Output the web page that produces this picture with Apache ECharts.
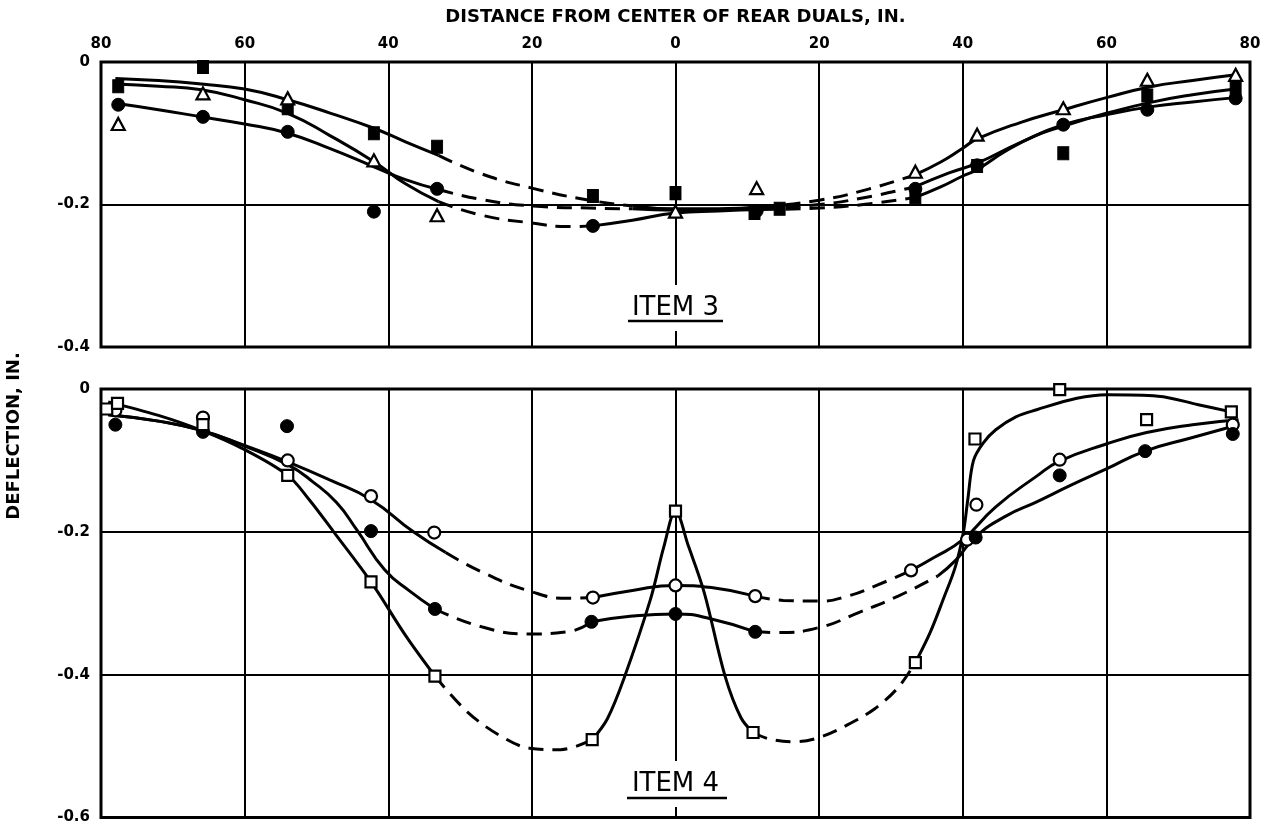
<!DOCTYPE html>
<html>
<head>
<meta charset="utf-8">
<script src="https://cdn.jsdelivr.net/npm/echarts@6.0.0/dist/echarts.min.js"></script>
<style>html,body{margin:0;padding:0;background:#fff}#c{width:1269px;height:825px}</style>
</head>
<body>
<div id="c"></div>
<script>
// ---------- tick labels ----------
const xTickLabels = ['80','60','40','20','0','20','40','60','80'];
const yTickLabelsTop = ['-0.4','-0.2','0'];
const yTickLabelsBottom = ['-0.6','-0.4','-0.2','0'];
const xAxisTitle = 'DISTANCE FROM CENTER OF REAR DUALS, IN.';
const yAxisTitle = 'DEFLECTION, IN.';
const panelLabels = ['ITEM 3', 'ITEM 4'];

// ---------- ITEM 3 measured points ----------
const item3FilledCircle = [[-77.6,-0.060],[-65.8,-0.077],[-54,-0.098],[-42,-0.210],[-33.2,-0.178],[-11.5,-0.230],[11.3,-0.209],[33.4,-0.178],[42,-0.145],[54,-0.088],[65.7,-0.067],[78,-0.051]];
const item3FilledSquare = [[-77.6,-0.034],[-65.8,-0.007],[-54,-0.065],[-42,-0.100],[-33.2,-0.119],[-11.5,-0.188],[0,-0.184],[11,-0.212],[14.5,-0.206],[33.4,-0.190],[42,-0.146],[54,-0.128],[65.7,-0.047],[78,-0.037]];
const item3Triangle = [[-77.6,-0.087],[-65.8,-0.044],[-54,-0.051],[-42,-0.138],[-33.2,-0.215],[0,-0.210],[11.3,-0.177],[33.4,-0.154],[42,-0.102],[54,-0.065],[65.7,-0.025],[78,-0.018]];

// ---------- ITEM 3 faired curves ----------
const item3CurveA = [[-78,-0.023],[-72,-0.026],[-66,-0.031],[-60,-0.038],[-54,-0.053],[-48,-0.072],[-42,-0.093],[-37.6,-0.112],[-33,-0.131],[-27,-0.157],[-20,-0.177],[-12,-0.194],[-6,-0.202],[0,-0.206],[6,-0.206],[12,-0.203],[20,-0.194],[27,-0.178],[33.4,-0.158],[37,-0.140],[40,-0.121],[42,-0.108],[48,-0.085],[54,-0.067],[60,-0.050],[66,-0.035],[72,-0.026],[78,-0.018]];
const item3CurveADashed = [[-33,-6],[12,33.4]];
const item3CurveB = [[-78,-0.031],[-72,-0.034],[-66,-0.039],[-60,-0.053],[-54,-0.072],[-48,-0.104],[-42,-0.140],[-37.6,-0.171],[-33,-0.196],[-27,-0.215],[-20,-0.226],[-15,-0.231],[-11.5,-0.230],[-6,-0.222],[0,-0.212],[6,-0.209],[12,-0.207],[20,-0.205],[27,-0.199],[33.4,-0.190],[37,-0.175],[40,-0.160],[42,-0.151],[46,-0.125],[50,-0.104],[54,-0.090],[60,-0.072],[66,-0.057],[72,-0.046],[78,-0.038]];
const item3CurveBDashed = [[-33,-11.5],[12,33.4]];
const item3CurveC = [[-78,-0.058],[-72,-0.067],[-66,-0.077],[-60,-0.087],[-54,-0.100],[-48,-0.122],[-42,-0.147],[-37.6,-0.165],[-33,-0.179],[-27,-0.193],[-20,-0.202],[-12,-0.205],[-6,-0.206],[0,-0.208],[6,-0.207],[12,-0.205],[20,-0.200],[27,-0.189],[33.4,-0.175],[38,-0.156],[42,-0.142],[48,-0.113],[54,-0.088],[60,-0.074],[66,-0.063],[72,-0.056],[78,-0.050]];
const item3CurveCDashed = [[-33,-6],[12,33.4]];

// ---------- ITEM 4 measured points ----------
const item4OpenCircle = [[-78,-0.030],[-65.8,-0.040],[-54,-0.100],[-42.4,-0.150],[-33.6,-0.201],[-11.5,-0.292],[0,-0.275],[11.1,-0.290],[32.8,-0.254],[40.6,-0.211],[41.9,-0.162],[53.5,-0.099],[77.6,-0.050]];
const item4FilledCircle = [[-78,-0.050],[-65.8,-0.060],[-54.1,-0.052],[-42.4,-0.199],[-33.5,-0.308],[-11.7,-0.326],[0,-0.315],[11.1,-0.340],[41.8,-0.208],[53.5,-0.121],[65.4,-0.087],[77.6,-0.063]];
const item4OpenSquare = [[-79.2,-0.028],[-77.7,-0.020],[-65.8,-0.050],[-54,-0.121],[-42.4,-0.270],[-33.5,-0.402],[-11.6,-0.491],[0,-0.171],[10.8,-0.481],[33.4,-0.383],[41.7,-0.070],[53.5,-0.001],[65.6,-0.043],[77.4,-0.032]];

// ---------- ITEM 4 faired curves ----------
const item4CurveO = [[-79,-0.036],[-72,-0.045],[-66,-0.058],[-60,-0.079],[-54,-0.102],[-48,-0.128],[-42.4,-0.155],[-36.5,-0.200],[-32,-0.229],[-27,-0.256],[-20.3,-0.283],[-15,-0.293],[-11.5,-0.292],[-6,-0.282],[0,-0.275],[5,-0.278],[11.1,-0.290],[15,-0.296],[20,-0.297],[24,-0.290],[28,-0.275],[32.8,-0.254],[36,-0.236],[40,-0.211],[44.6,-0.165],[50.3,-0.122],[53.5,-0.101],[60,-0.077],[65.6,-0.061],[72,-0.050],[78.4,-0.043]];
const item4CurveODashed = [[-32,-11.5],[11.1,32.8]];
const item4CurveF = [[-79,-0.036],[-72,-0.045],[-66,-0.058],[-60,-0.080],[-54,-0.106],[-50.5,-0.130],[-47.2,-0.159],[-44.4,-0.197],[-40.5,-0.253],[-37,-0.283],[-33.5,-0.308],[-27,-0.333],[-20.3,-0.343],[-15,-0.340],[-11.7,-0.326],[-6,-0.318],[0,-0.315],[5,-0.322],[11.1,-0.340],[14.2,-0.341],[20,-0.334],[25.5,-0.313],[31,-0.290],[36.5,-0.262],[39,-0.240],[41.8,-0.207],[46,-0.178],[50.3,-0.158],[55,-0.135],[60,-0.112],[65.4,-0.087],[72,-0.068],[78.4,-0.050]];
const item4CurveFDashed = [[-33.5,-11.7],[11.1,36.5]];
const item4CurveQ = [[-79,-0.018],[-72,-0.037],[-66,-0.058],[-60,-0.085],[-54,-0.121],[-51,-0.155],[-47.6,-0.200],[-42.4,-0.270],[-37.6,-0.345],[-33.5,-0.402],[-29,-0.452],[-24.5,-0.485],[-20.3,-0.503],[-16,-0.505],[-11.6,-0.491],[-9.5,-0.462],[-7.2,-0.406],[-3.5,-0.295],[-1.6,-0.220],[0,-0.171],[1.8,-0.220],[4,-0.285],[6.9,-0.402],[9.1,-0.460],[10.8,-0.481],[13,-0.490],[16.5,-0.494],[20,-0.488],[24,-0.470],[27.7,-0.448],[31,-0.418],[33.4,-0.383],[35.5,-0.340],[37.3,-0.294],[39,-0.248],[40.1,-0.200],[40.7,-0.155],[41.5,-0.100],[42.9,-0.075],[44.6,-0.057],[47.4,-0.039],[50.3,-0.029],[55.9,-0.013],[60.1,-0.008],[67.2,-0.010],[72.8,-0.022],[77.4,-0.032]];
const item4CurveQDashed = [[-33.5,-11.6],[10.8,33.4]];

// ---------- build ----------
const FONT = '"DejaVu Sans", "Liberation Sans", sans-serif';

function splitCurve(pts, dashedRanges) {
  const segs = [];
  let cur = null;
  for (let i = 0; i < pts.length - 1; i++) {
    const mid = (pts[i][0] + pts[i + 1][0]) / 2;
    const dashed = dashedRanges.some(r => mid > r[0] && mid < r[1]);
    if (!cur || cur.dashed !== dashed) { cur = { dashed: dashed, data: [pts[i]] }; segs.push(cur); }
    cur.data.push(pts[i + 1]);
  }
  return segs;
}

function curveSeries(pts, dashedRanges, gi, smooth) {
  return splitCurve(pts, dashedRanges).map(s => ({
    type: 'line', xAxisIndex: gi, yAxisIndex: gi, data: s.data,
    symbol: 'none', showSymbol: false, smooth: smooth, silent: true, z: 3,
    lineStyle: { color: '#000', width: 3, opacity: 1, type: s.dashed ? [15, 9] : 'solid', cap: 'butt' }
  }));
}

function scatter(data, gi, symbol, size, filled) {
  return {
    type: 'scatter', xAxisIndex: gi, yAxisIndex: gi, data: data,
    symbol: symbol, symbolSize: size, silent: true, z: 5,
    itemStyle: filled ? { color: '#000', borderColor: '#000', borderWidth: 1, opacity: 1 }
                      : { color: '#fff', borderColor: '#000', borderWidth: 2.2, opacity: 1 }
  };
}

const series = [].concat(
  curveSeries(item3CurveA, item3CurveADashed, 0, 0.5),
  curveSeries(item3CurveB, item3CurveBDashed, 0, 0.5),
  curveSeries(item3CurveC, item3CurveCDashed, 0, 0.5),
  curveSeries(item4CurveO, item4CurveODashed, 1, 0.5),
  curveSeries(item4CurveF, item4CurveFDashed, 1, 0.5),
  curveSeries(item4CurveQ, item4CurveQDashed, 1, 0.35),
  [
    scatter(item3FilledCircle, 0, 'circle', 13, true),
    scatter(item3FilledSquare, 0, 'rect', [11, 13], true),
    scatter(item3Triangle, 0, 'triangle', [13, 12], false),
    scatter(item4OpenCircle, 1, 'circle', 12, false),
    scatter(item4FilledCircle, 1, 'circle', 13, true),
    scatter(item4OpenSquare, 1, 'rect', 11, false)
  ]
);

const gridStyle = { show: true, borderColor: '#000', borderWidth: 3, backgroundColor: '#fff' };
const splitLine = { show: true, lineStyle: { color: '#000', width: 2 } };

function xAxis(gi, showLabels) {
  return {
    type: 'value', gridIndex: gi, min: -80, max: 80, interval: 20,
    position: 'top',
    axisLine: { show: false }, axisTick: { show: false },
    axisLabel: { show: showLabels, margin: 10, color: '#000', fontFamily: FONT, fontWeight: 'bold', fontSize: 15,
                 formatter: (v, i) => xTickLabels[i] },
    splitLine: splitLine,
    name: showLabels ? xAxisTitle : '', nameLocation: 'middle', nameGap: 36,
    nameTextStyle: { color: '#000', fontFamily: FONT, fontWeight: 'bold', fontSize: 18 }
  };
}
function yAxis(gi, min, labels) {
  return {
    type: 'value', gridIndex: gi, min: min, max: 0, interval: 0.2,
    axisLine: { show: false }, axisTick: { show: false },
    axisLabel: { margin: 11, color: '#000', fontFamily: FONT, fontWeight: 'bold', fontSize: 15,
                 formatter: (v, i) => labels[i] },
    splitLine: splitLine
  };
}

const chart = echarts.init(document.getElementById('c'), null, { renderer: 'canvas' });
chart.setOption({
  backgroundColor: '#fff',
  animation: false,
  grid: [
    Object.assign({ left: 101, right: 19, top: 62, height: 285 }, gridStyle),
    Object.assign({ left: 101, right: 19, top: 389, height: 430 }, gridStyle)
  ],
  xAxis: [xAxis(0, true), xAxis(1, false)],
  yAxis: [yAxis(0, -0.4, yTickLabelsTop), yAxis(1, -0.6, yTickLabelsBottom)],
  series: series,
  graphic: [
    { type: 'text', x: 14, y: 436, rotation: Math.PI / 2, z: 10,
      style: { text: yAxisTitle, fill: '#000', font: 'bold 18px ' + FONT, align: 'center', verticalAlign: 'middle',
               textAlign: 'center', textVerticalAlign: 'middle' } },
    { type: 'text', x: 675.5, y: 308, z: 10,
      style: { text: panelLabels[0], fill: '#000', font: '26px ' + FONT, align: 'center', verticalAlign: 'middle',
               textAlign: 'center', textVerticalAlign: 'middle', backgroundColor: '#fff', padding: [10, 6] } },
    { type: 'line', z: 11, shape: { x1: 628, y1: 321, x2: 723, y2: 321 }, style: { stroke: '#000', lineWidth: 2.5 } },
    { type: 'text', x: 675.5, y: 784, z: 10,
      style: { text: panelLabels[1], fill: '#000', font: '26px ' + FONT, align: 'center', verticalAlign: 'middle',
               textAlign: 'center', textVerticalAlign: 'middle', backgroundColor: '#fff', padding: [10, 6] } },
    { type: 'line', z: 11, shape: { x1: 627, y1: 798, x2: 727, y2: 798 }, style: { stroke: '#000', lineWidth: 2.5 } }
  ]
});
</script>
</body>
</html>
